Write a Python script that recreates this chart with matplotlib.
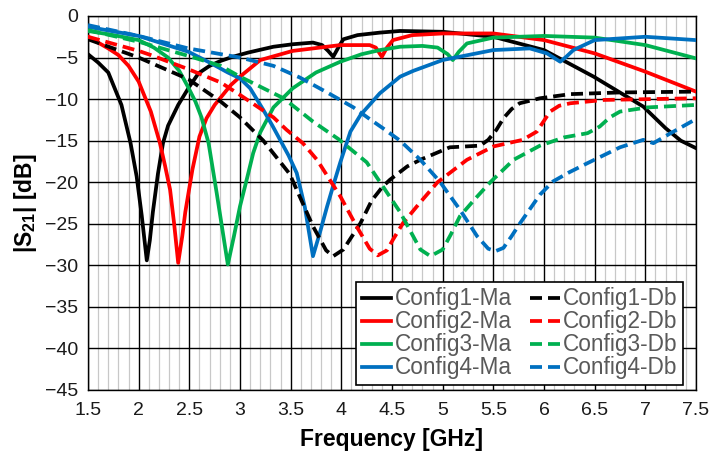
import matplotlib
matplotlib.use("Agg")
import matplotlib.pyplot as plt
from matplotlib.ticker import MultipleLocator, FuncFormatter

plt.rcParams['font.family'] = ['Liberation Sans', 'DejaVu Sans']
plt.rcParams['mathtext.fontset'] = 'custom'
plt.rcParams['mathtext.rm'] = 'Liberation Sans'
plt.rcParams['mathtext.bf'] = 'Liberation Sans:bold'

# ---- data (frequency in GHz, |S21| in dB) ----
c1_ma_f = [1.5, 1.6, 1.7, 1.83, 1.92, 1.98, 2.03, 2.08, 2.11, 2.14, 2.19, 2.24, 2.29, 2.39, 2.5, 2.59, 2.7, 2.81,
           2.93, 3.08, 3.33, 3.52, 3.72, 3.81, 3.87, 3.92, 3.97, 4.02, 4.16, 4.38, 4.58, 5.0, 5.5, 6.0, 6.49, 6.98,
           7.2, 7.35, 7.5]
c1_ma_s = [-4.6, -5.6, -6.8, -10.7, -15.3, -19.3, -24.0, -29.4, -27.0, -23.6, -19.0, -15.3, -13.2, -10.7, -8.5,
           -6.9, -6.0, -5.4, -4.9, -4.4, -3.7, -3.4, -3.2, -3.5, -4.2, -4.9, -3.8, -2.8, -2.3, -2.0, -1.8, -1.9,
           -2.5, -4.1, -7.3, -10.9, -13.5, -15.0, -15.9]

c2_ma_f = [1.5, 1.6, 1.7, 1.8, 1.9, 2.0, 2.12, 2.21, 2.26, 2.31, 2.35, 2.39, 2.43, 2.46, 2.53, 2.6, 2.67, 2.75,
           2.91, 3.0, 3.2, 3.52, 3.99, 4.28, 4.34, 4.4, 4.45, 4.51, 4.7, 5.0, 5.5, 6.0, 6.5, 7.0, 7.5]
c2_ma_s = [-2.5, -3.2, -3.9, -4.7, -6.0, -7.9, -11.5, -15.3, -18.0, -20.9, -25.0, -29.7, -26.5, -23.6, -18.5,
           -14.5, -12.3, -10.7, -8.3, -7.3, -5.3, -4.2, -3.5, -3.5, -3.8, -4.9, -3.8, -2.9, -2.3, -2.1, -2.1,
           -2.9, -4.5, -6.7, -9.1]

c3_ma_f = [1.5, 1.75, 2.0, 2.15, 2.29, 2.4, 2.49, 2.56, 2.62, 2.69, 2.77, 2.83, 2.88, 2.94, 3.0, 3.07, 3.13, 3.2,
           3.33, 3.52, 3.75, 3.99, 4.2, 4.38, 4.58, 4.8, 4.95, 5.05, 5.1, 5.16, 5.24, 5.5, 6.0, 6.5, 7.0, 7.5]
c3_ma_s = [-1.8, -2.3, -2.9, -3.8, -5.0, -6.6, -8.6, -10.3, -12.2, -15.3, -21.3, -26.0, -29.9, -26.5, -22.9,
           -19.5, -16.5, -14.0, -11.0, -8.7, -6.8, -5.5, -4.6, -4.1, -3.7, -3.6, -3.8, -4.6, -5.3, -4.3, -3.3,
           -2.6, -2.4, -2.6, -3.5, -5.1]

c4_ma_f = [1.5, 2.0, 2.49, 2.7, 2.88, 3.0, 3.1, 3.23, 3.32, 3.4, 3.48, 3.56, 3.64, 3.72, 3.79, 3.86, 3.93, 3.99,
           4.09, 4.19, 4.38, 4.58, 4.71, 5.0, 5.5, 5.86, 6.03, 6.16, 6.22, 6.29, 6.5, 7.0, 7.5]
c4_ma_s = [-1.3, -2.4, -4.3, -5.6, -6.8, -7.5, -8.7, -11.3, -13.2, -15.0, -16.8, -18.9, -23.0, -28.9, -26.0,
           -22.9, -20.0, -17.6, -13.9, -11.9, -9.3, -7.3, -6.6, -5.3, -4.1, -3.9, -4.5, -5.5, -4.9, -4.1, -2.9,
           -2.5, -2.9]

c1_db_f = [1.5, 2.0, 2.49, 2.81, 3.0, 3.23, 3.49, 3.72, 3.85, 3.92, 4.02, 4.19, 4.3, 4.41, 4.48, 4.65, 4.78,
           5.07, 5.37, 5.45, 5.53, 5.6, 5.68, 5.76, 5.96, 6.26, 6.75, 7.5]
c1_db_s = [-2.8, -5.0, -7.6, -10.3, -12.2, -15.0, -19.0, -25.3, -28.2, -28.9, -28.1, -24.9, -22.2, -20.5,
           -19.7, -18.1, -17.3, -15.8, -15.6, -14.9, -13.7, -12.3, -11.2, -10.5, -9.9, -9.4, -9.2, -9.1]

c2_db_f = [1.5, 2.0, 2.12, 2.49, 2.81, 3.0, 3.33, 3.46, 3.62, 3.76, 3.99, 4.15, 4.28, 4.36, 4.45, 4.51, 4.61,
           4.78, 4.95, 5.24, 5.5, 5.79, 5.93, 6.06, 6.15, 6.26, 6.59, 7.5]
c2_db_s = [-2.5, -4.2, -4.7, -6.4, -8.0, -9.5, -12.2, -13.7, -15.3, -17.3, -21.7, -25.3, -28.0, -28.8, -28.2,
           -26.9, -24.9, -22.4, -20.0, -17.3, -15.7, -14.9, -13.9, -11.5, -10.8, -10.5, -10.1, -9.9]

c3_db_f = [1.5, 2.0, 2.49, 2.81, 3.0, 3.43, 3.72, 3.97, 4.25, 4.41, 4.58, 4.7, 4.78, 4.88, 5.0, 5.08, 5.17,
           5.32, 5.47, 5.7, 5.96, 6.2, 6.43, 6.55, 6.65, 6.75, 7.02, 7.5]
c3_db_s = [-1.7, -3.1, -4.8, -6.0, -7.3, -9.9, -12.7, -14.8, -17.6, -20.5, -23.6, -26.3, -28.1, -28.9, -28.1,
           -26.3, -24.1, -22.0, -20.0, -17.3, -15.6, -14.6, -14.1, -13.3, -12.2, -11.5, -11.0, -10.7]

c4_db_f = [1.5, 2.0, 2.49, 3.0, 3.33, 3.59, 3.86, 4.12, 4.28, 4.41, 4.58, 4.78, 4.97, 5.17, 5.34, 5.45, 5.52,
           5.6, 5.68, 5.76, 5.96, 6.09, 6.25, 6.43, 6.75, 6.98, 7.08, 7.25, 7.5]
c4_db_s = [-1.1, -2.4, -3.9, -5.0, -6.0, -7.4, -9.2, -11.0, -12.4, -13.5, -15.0, -17.3, -19.9, -23.3, -26.5,
           -28.0, -28.3, -27.9, -26.5, -25.0, -21.5, -19.9, -18.8, -17.7, -15.8, -14.9, -15.3, -14.1, -12.4]

labels_ma = ['Config1-Ma', 'Config2-Ma', 'Config3-Ma', 'Config4-Ma']
labels_db = ['Config1-Db', 'Config2-Db', 'Config3-Db', 'Config4-Db']
colors = ['#000000', '#FF0000', '#00B050', '#0070C0']

ma_series = [(c1_ma_f, c1_ma_s), (c2_ma_f, c2_ma_s), (c3_ma_f, c3_ma_s), (c4_ma_f, c4_ma_s)]
db_series = [(c1_db_f, c1_db_s), (c2_db_f, c2_db_s), (c3_db_f, c3_db_s), (c4_db_f, c4_db_s)]

fig = plt.figure(figsize=(7.19, 4.65), dpi=100)
ax = fig.add_axes([0.1224, 0.1613, 0.8456, 0.8043])

handles = []
for (f, s), lab, c in zip(ma_series, labels_ma, colors):
    h, = ax.plot(f, s, color=c, lw=2.7, label=lab, solid_joinstyle='round', zorder=3)
    handles.append(h)
for (f, s), lab, c in zip(db_series, labels_db, colors):
    h, = ax.plot(f, s, color=c, lw=2.7, ls=(0, (3.2, 1.6)), label=lab, zorder=3)
    handles.append(h)

ax.set_xlim(1.5, 7.5)
ax.set_ylim(-45, 0)
ax.xaxis.set_major_locator(MultipleLocator(0.5))
ax.xaxis.set_minor_locator(MultipleLocator(0.1))
ax.yaxis.set_major_locator(MultipleLocator(5))
ax.xaxis.set_major_formatter(FuncFormatter(lambda v, p: f"{v:g}"))
ax.grid(which='minor', axis='x', color='#C8C8C8', lw=0.9, zorder=0)
ax.grid(which='major', axis='both', color='#000000', lw=1.0, zorder=1)
ax.tick_params(which='both', length=0, labelsize=14, colors='#1a1a1a')
ax.tick_params(axis='x', pad=9)
ax.tick_params(axis='y', pad=7)
for sp in ax.spines.values():
    sp.set_color('#000000')
    sp.set_linewidth(1.0)

ax.set_xlabel('Frequency [GHz]', fontsize=16.5, fontweight='bold', labelpad=6)
ax.set_ylabel(r'|S$_\mathbf{21}$| [dB]', fontsize=16.5, fontweight='bold', labelpad=4)

leg = ax.legend(handles=handles, ncol=2, loc='lower right', bbox_to_anchor=(0.979, 0.013),
                borderaxespad=0, fontsize=16.3, frameon=True, fancybox=False, framealpha=1,
                edgecolor='#000000', handlelength=1.3, handletextpad=0.15, columnspacing=0.8,
                labelspacing=0.0, borderpad=0.25)
leg.get_frame().set_linewidth(1.2)
for t in leg.get_texts():
    t.set_color('#595959')
leg.set_zorder(5)

fig.savefig('out.png', dpi=100)
